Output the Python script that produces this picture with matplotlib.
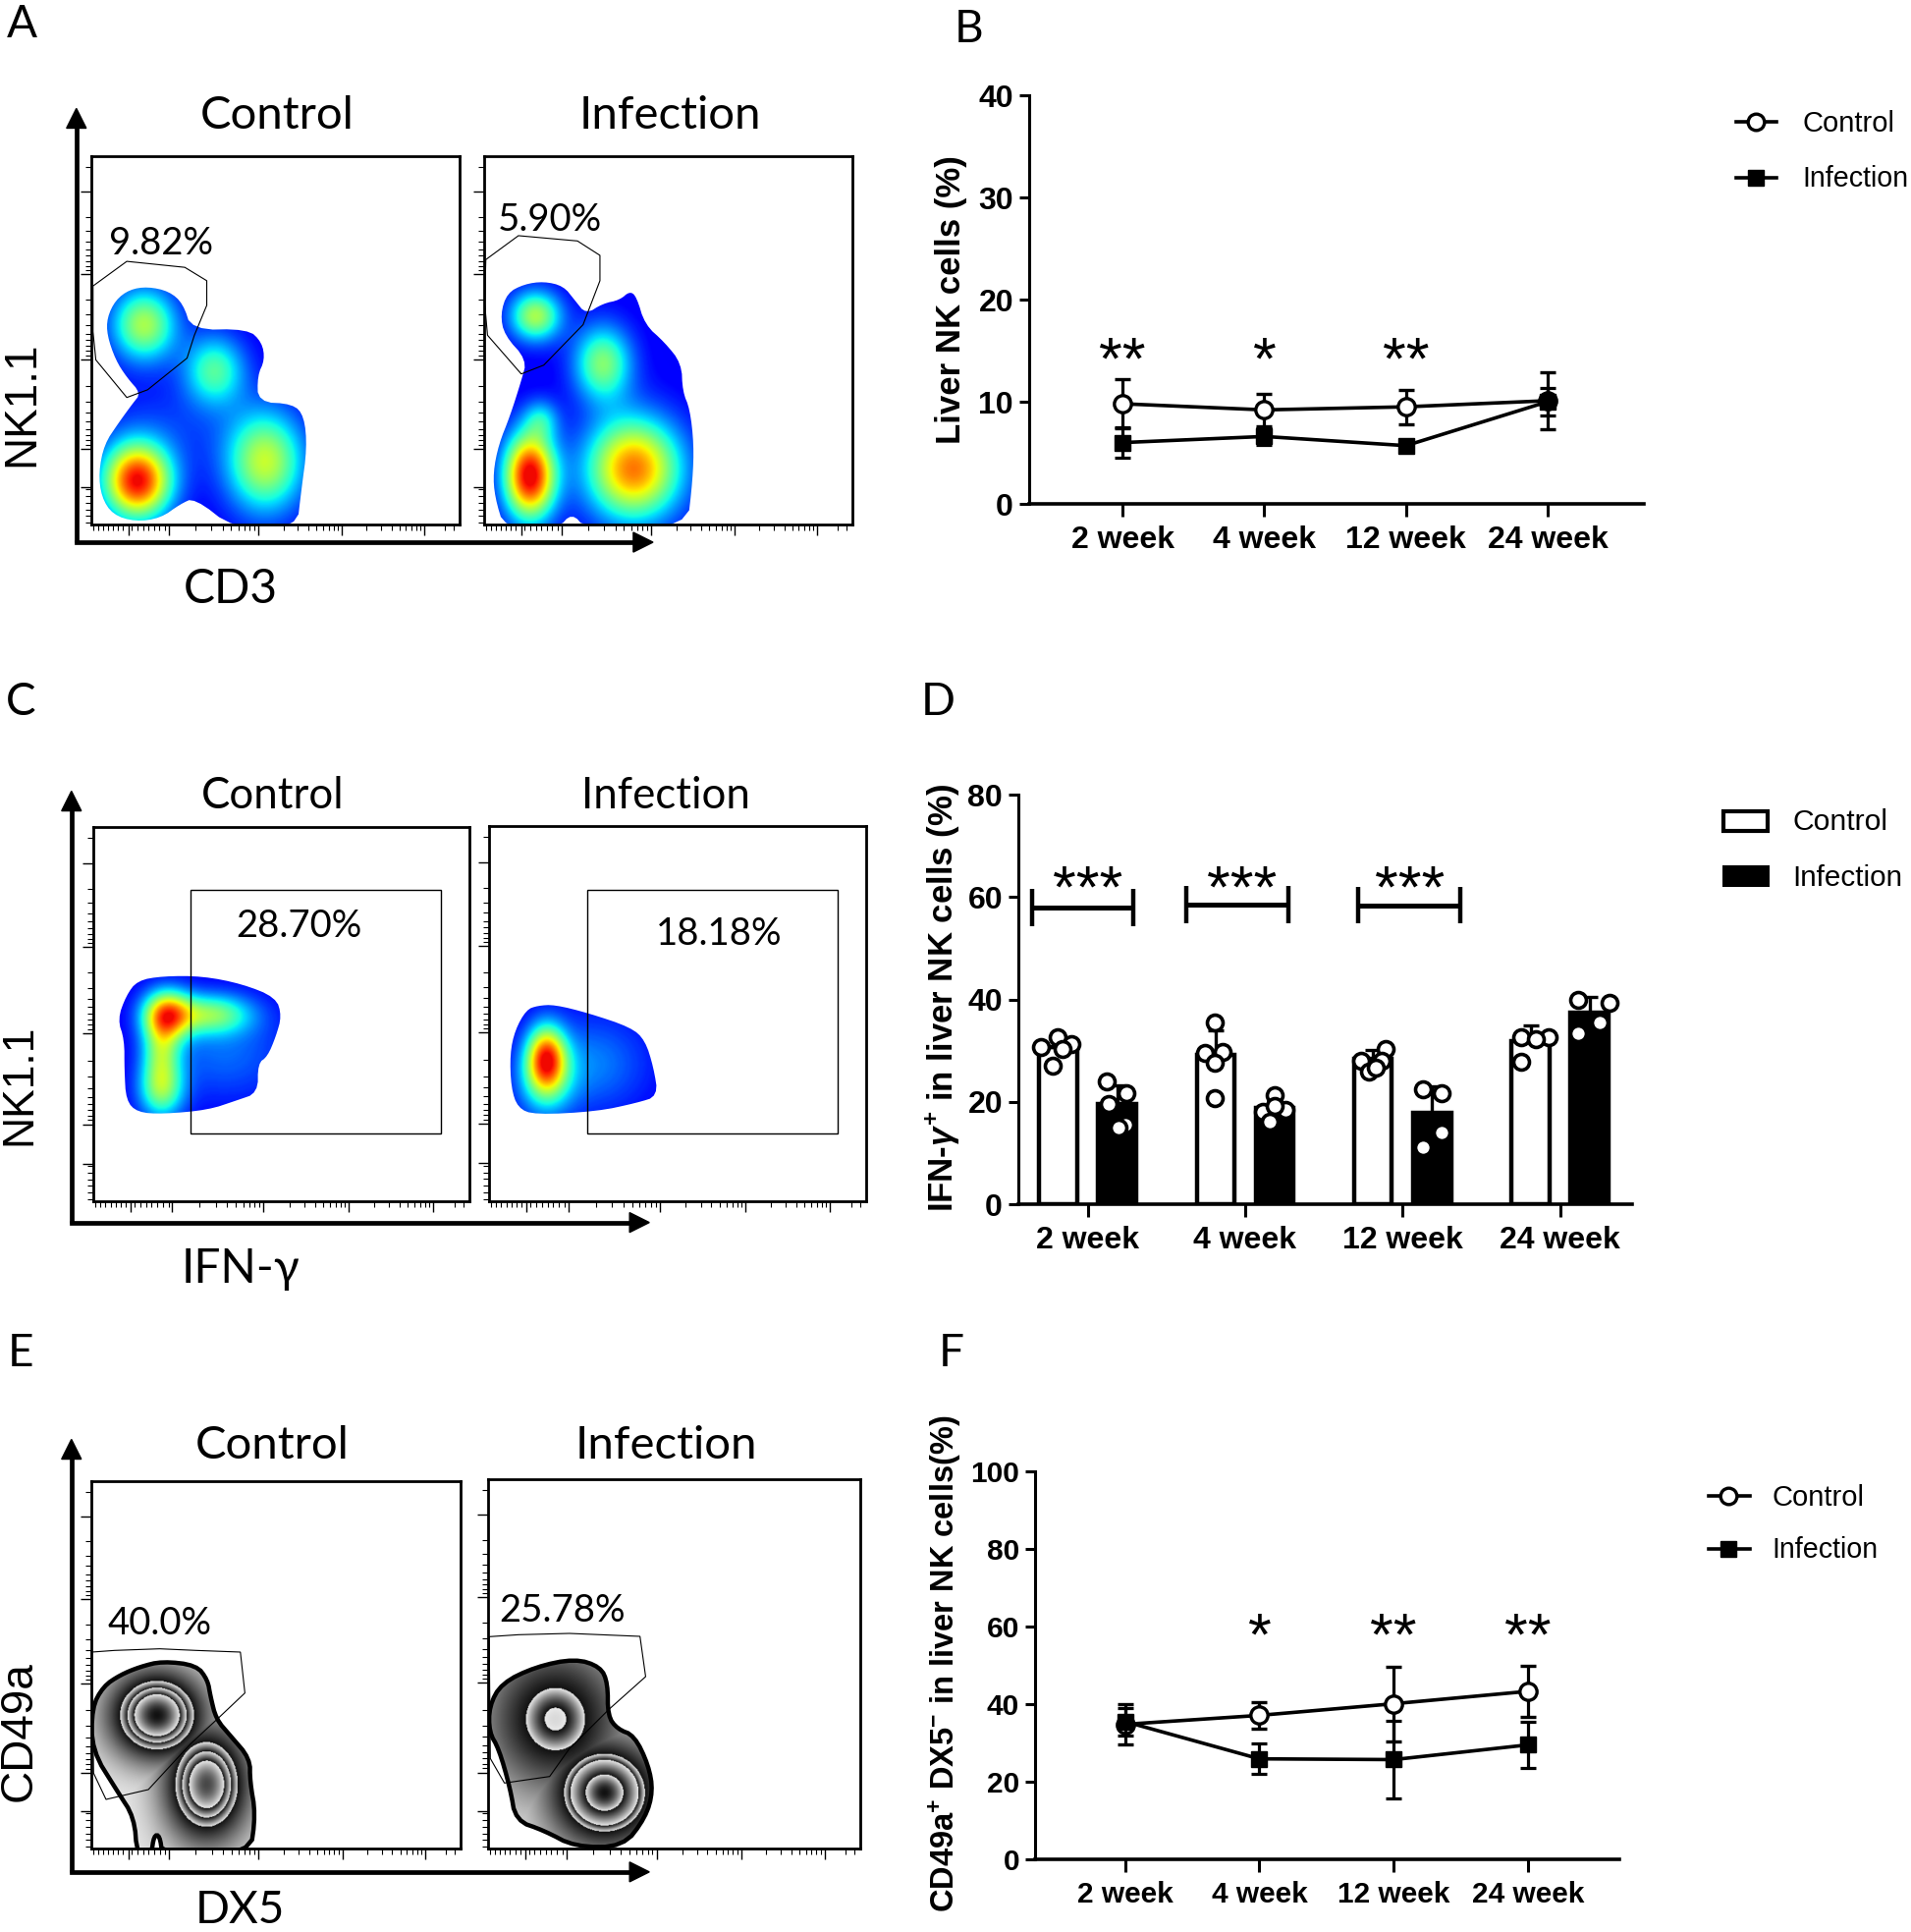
import matplotlib
matplotlib.use('Agg')
import matplotlib.pyplot as plt
from matplotlib.colors import LinearSegmentedColormap
from matplotlib.patches import Polygon, Rectangle
import numpy as np

W, H = 1946, 1967
S = W / 1551  # el ojo mide en la imagen reducida

plt.rcParams['font.family'] = 'Liberation Sans'
plt.rcParams['mathtext.fontset'] = 'custom'
plt.rcParams['mathtext.rm'] = 'Liberation Sans:bold'
plt.rcParams['mathtext.bf'] = 'Liberation Sans:bold'
plt.rcParams['mathtext.it'] = 'Liberation Sans:italic:bold'

weeks = ['2 week', '4 week', '12 week', '24 week']

# panel B
b_control = [9.8, 9.2, 9.5, 10.1]
b_control_err = [2.4, 1.6, 1.7, 2.8]
b_infection = [6.0, 6.6, 5.7, 10.0]
b_infection_err = [1.5, 0.8, 0.4, 1.3]
b_stars = ['**', '*', '**', '']

# panel D
d_control = [30.7, 29.2, 28.3, 31.9]
d_control_err = [2.0, 4.7, 1.8, 3.0]
d_infection = [19.5, 18.8, 17.8, 37.5]
d_infection_err = [3.7, 1.7, 5.2, 3.0]
d_control_pts = [[30.7, 32.6, 31.3, 27.0, 30.3], [35.5, 29.6, 29.8, 27.6, 20.7],
                 [30.3, 28.0, 28.0, 25.9, 26.7], [32.7, 32.6, 32.3, 27.8]]
d_control_jit = [[-.294, -.192, -.102, -.224, -.16], [-.192, -.253, -.143, -.192, -.192],
                 [-.11, -.265, -.131, -.212, -.171], [-.249, -.073, -.155, -.249]]
d_infection_pts = [[24.0, 21.7, 19.5, 15.5, 15.0], [21.2, 18.1, 18.4, 16.1, 19.1],
                   [22.4, 21.7, 14.0, 11.2], [40.0, 39.3, 35.5, 33.4]]
d_infection_jit = [[.122, .245, .131, .237, .196], [.188, .114, .257, .155, .188],
                   [.127, .249, .249, .127], [.118, .314, .253, .118]]
d_brackets_x = [(-.355, .29), (.624, 1.278), (1.718, 2.367)]
d_brackets_y = [57.9, 58.5, 58.4]
d_stars_x = [0.0, .98, 2.045]

# panel F
f_control = [34.8, 37.1, 40.1, 43.3]
f_control_err = [5.2, 3.4, 9.6, 6.6]
f_infection = [35.5, 25.9, 25.7, 29.5]
f_infection_err = [3.5, 4.0, 10.0, 6.0]
f_stars = ['', '*', '**', '**']

# citometria: contornos, puertas y picos de densidad, en pixeles del recorte
a1_shape = [(262,652),(300,665),(325,700),(340,775),(440,772),(465,810),(470,860),(457,905),(458,980),(520,985),
            (540,1020),(545,1110),(535,1230),(527,1340),(415,1340),(345,1252),(320,1270),(285,1310),(240,1320),
            (200,1300),(180,1250),(175,1180),(185,1100),(210,1040),(235,985),(250,955),(225,910),(205,860),
            (190,790),(190,740),(205,690),(230,660)]
a1_peaks = [(255,760,40,72,.56),(243,1205,42,75,1.0),(470,1150,48,100,.6),(380,890,38,70,.42),(300,1050,90,90,.08)]
a1_gate = [(165,650),(225,580),(328,597),(367,635),(367,705),(345,790),(332,855),(262,945),(225,967),(170,860),(165,780)]
a2_shape = [(965,637),(1000,650),(1020,690),(1040,730),(1070,700),(1100,690),(1118,665),(1130,680),(1145,760),
            (1180,810),(1210,870),(1212,950),(1225,1000),(1232,1100),(1230,1200),(1220,1340),(1040,1340),(1015,1295),
            (990,1340),(895,1340),(878,1250),(875,1180),(885,1100),(905,1020),(925,920),(935,860),(895,790),
            (888,730),(900,670),(930,645)]
a2_peaks = [(950,735,32,50,.56),(940,1190,32,85,1.05),(1125,1170,58,100,.85),(1070,870,36,75,.5),(960,1030,22,40,.24)]
a2_gate = [(862,575),(920,507),(1025,522),(1065,563),(1065,635),(1035,760),(965,875),(925,900),(865,790),(860,700)]
c1_shape = [(290,622),(360,622),(430,645),(490,685),(500,740),(490,800),(475,860),(458,880),(458,968),(420,990),
            (370,1018),(290,1030),(245,1025),(225,990),(222,900),(222,810),(210,750),(225,680),(245,635)]
c1_peaks = [(297,735,30,50,.72),(375,735,50,42,.45),(287,960,28,60,.45),(287,840,24,70,.42),(400,850,80,100,.15)]
c2_shape = [(985,705),(1045,730),(1120,772),(1145,810),(1160,890),(1168,975),(1130,995),(1060,1020),(950,1030),
            (920,1010),(908,950),(906,850),(915,780),(935,720),(955,708)]
c2_peaks = [(970,860,24,65,.75),(968,930,34,75,.32),(1050,880,70,100,.18)]
e1_shape = [(290,633),(350,645),(370,690),(375,740),(385,810),(410,860),(445,930),(445,1000),(455,1100),(445,1225),
            (290,1225),(285,1165),(275,1165),(270,1225),(245,1225),(240,1110),(210,1030),(165,905),(165,775),(185,710),(215,675),(250,650)]
e1_peaks = [(280,798,60,96,1.0),(368,1010,53,124,.95)]
e1_levels = [0, .55, .68, .8, 2]
e1_gate = [(165,605),(205,600),(285,595),(350,600),(428,605),(436,730),(390,805),(340,885),(265,1025),(190,1055),(168,975)]
e2_shape = [(1020,625),(1065,650),(1078,700),(1078,800),(1095,840),(1125,860),(1150,950),(1158,1030),(1145,1110),
            (1105,1200),(1020,1200),(965,1150),(915,1120),(905,1020),(885,900),(868,850),(868,770),(890,700),(950,650)]
e2_peaks = [(985,810,90,164,.675),(1072,1035,71,118,.95)]
e2_levels = [0, .57, .66, .85, 2]
e2_gate = [(868,558),(920,552),(1010,548),(1135,557),(1145,680),(1080,780),(1010,900),(975,985),(895,1005),(870,930)]

jet_cut = LinearSegmentedColormap.from_list('jet_cut', plt.cm.jet(np.linspace(.11, .9, 256)))


def box(x0, x1, y0, y1):
    return [x0 / W, 1 - y1 / H, (x1 - x0) / W, (y1 - y0) / H]


def suavizar(shape, n=2):
    # corta las esquinas del contorno
    p = np.array(shape, dtype=float)
    for _ in range(n):
        q = np.roll(p, -1, axis=0)
        p = np.column_stack([.75 * p + .25 * q, .25 * p + .75 * q]).reshape(-1, 2)
    return p


def campos(peaks, lims):
    xx, yy = np.meshgrid(np.linspace(lims[0], lims[1], 500), np.linspace(lims[2], lims[3], 500))
    return [amp * np.exp(-((xx - cx) / sx) ** 2 / 2 - ((yy - cy) / sy) ** 2 / 2) for cx, cy, sx, sy, amp in peaks]


def flow_axes(fig, pos, lims, lw=2.0):
    ax = fig.add_axes(box(*pos))
    ax.set_xlim(lims[0], lims[1])
    ax.set_ylim(lims[3], lims[2])
    for s in ax.spines.values():
        s.set_linewidth(lw)
    # ticks tipo log de FlowJo
    xmaj = np.array([.1, .21, .453, .68, .904])
    ymaj = np.array([.097, .32, .551, .794, .899])
    dec = np.log10(np.arange(2, 10))
    xmin = np.concatenate([xmaj[i] + (xmaj[i + 1] - xmaj[i]) * dec for i in range(1, 4)] +
                          [np.linspace(.005, .1, 8), np.linspace(.11, .2, 7), [.96, .985]])
    ymin = np.concatenate([ymaj[i] + (ymaj[i + 1] - ymaj[i]) * dec for i in range(0, 3)] +
                          [np.linspace(.905, .995, 6), [.03]])
    ax.set_xticks(lims[0] + xmaj * (lims[1] - lims[0]))
    ax.set_xticks(lims[0] + xmin * (lims[1] - lims[0]), minor=True)
    ax.set_yticks(lims[2] + ymaj * (lims[3] - lims[2]))
    ax.set_yticks(lims[2] + ymin * (lims[3] - lims[2]), minor=True)
    ax.tick_params(which='major', length=8, width=1.0, labelbottom=False, labelleft=False)
    ax.tick_params(which='minor', length=4, width=.8)
    return ax


def flow_jet(fig, pos, lims, shape, peaks, gate, label, label_xy, rect=False):
    ax = flow_axes(fig, pos, lims)
    im = ax.imshow(np.sum(campos(peaks, lims), axis=0), extent=[lims[0], lims[1], lims[3], lims[2]],
                   cmap=jet_cut, vmin=0, vmax=1, aspect='auto', interpolation='bilinear')
    im.set_clip_path(Polygon(suavizar(shape), closed=True, transform=ax.transData))
    ax.set_xlim(lims[0], lims[1])
    ax.set_ylim(lims[3], lims[2])
    if rect:
        ax.add_patch(Rectangle((gate[0], gate[2]), gate[1] - gate[0], gate[3] - gate[2], fill=False, ec='k', lw=1.0))
    else:
        ax.add_patch(Polygon(gate, closed=True, fill=False, ec='k', lw=.8))
    ax.text(label_xy[0], label_xy[1], label, family='Lato', fontsize=27.5, ha='center', va='center', color='k')
    return ax


def flow_zebra(fig, pos, lims, shape, peaks, levels, gate, label, label_xy):
    ax = flow_axes(fig, pos, lims)
    d = np.max(campos(peaks, lims), axis=0)
    lev = np.array(levels)
    i = np.clip(np.searchsorted(lev, d, side='right') - 1, 0, len(lev) - 2)
    top = np.where(i == len(lev) - 2, np.maximum(d.max(), lev[-2] + .01), lev[i + 1])
    frac = np.clip((d - lev[i]) / (top - lev[i]), 0, 1)
    gray = .92 - .85 * frac
    im = ax.imshow(gray, extent=[lims[0], lims[1], lims[3], lims[2]], cmap='gray', vmin=0, vmax=1,
                   aspect='auto', interpolation='bilinear')
    smooth = suavizar(shape)
    im.set_clip_path(Polygon(smooth, closed=True, transform=ax.transData))
    ax.add_patch(Polygon(smooth, closed=True, fill=False, ec='k', lw=3.2))
    ax.set_xlim(lims[0], lims[1])
    ax.set_ylim(lims[3], lims[2])
    ax.add_patch(Polygon(gate, closed=True, fill=False, ec='k', lw=.8))
    ax.text(label_xy[0], label_xy[1], label, family='Lato', fontsize=27.5, ha='center', va='center', color='k')
    return ax


def estilo(ax, ymax, yticks, size=23):
    ax.spines['top'].set_visible(False)
    ax.spines['right'].set_visible(False)
    ax.spines['left'].set_linewidth(2.2)
    ax.spines['bottom'].set_linewidth(2.6)
    ax.set_ylim(0, ymax)
    ax.set_yticks(yticks)
    ax.set_xticks(range(4))
    ax.set_xticklabels(weeks, fontsize=size, fontweight='bold')
    ax.tick_params(axis='y', length=7, width=2.2, labelsize=size, pad=4.5)
    ax.tick_params(axis='x', length=9.5, width=2.2, pad=6)
    for t in ax.get_yticklabels():
        t.set_fontweight('bold')
    ax.patch.set_alpha(0)


def lineas(ax, control, control_err, infection, infection_err):
    x = np.arange(4)
    ax.errorbar(x, control, yerr=control_err, color='k', lw=2.6, elinewidth=2.3, capsize=6, capthick=2.3,
                marker='o', ms=12.5, mfc='w', mec='k', mew=2.4, zorder=3, clip_on=False)
    ax.errorbar(x, infection, yerr=infection_err, color='k', lw=2.6, elinewidth=2.3, capsize=6, capthick=2.3,
                marker='s', ms=11, mfc='k', mec='k', zorder=4, clip_on=False)


fig = plt.figure(figsize=(W / 100, H / 100), dpi=100, facecolor='w')

# paneles de citometria
flow_jet(fig, (93, 468, 159, 534), (162, 816, 281, 1328), a1_shape, a1_peaks, a1_gate, '9.82%', (285, 530))
flow_jet(fig, (493, 868, 159, 534), (859, 1514, 281, 1328), a2_shape, a2_peaks, a2_gate, '5.90%', (975, 463))
flow_jet(fig, (95, 478, 842, 1223), (167, 832, 181, 1288), c1_shape, c1_peaks, (339, 781, 367, 1087), '28.70%', (530, 474), rect=True)
flow_jet(fig, (498, 882, 841, 1223), (869, 1536, 178, 1285), c2_shape, c2_peaks, (1043, 1485, 365, 1085), '18.18%', (1275, 496), rect=True)
flow_zebra(fig, (93, 469, 1508, 1882), (164, 818, 83, 1205), e1_shape, e1_peaks, e1_levels, e1_gate, '40.0%', (285, 518))
flow_zebra(fig, (497, 876, 1506, 1882), (866, 1525, 77, 1205), e2_shape, e2_peaks, e2_levels, e2_gate, '25.78%', (998, 479))

# panel B
ax = fig.add_axes(box(1048, 1674, 97, 513))
ax.set_xlim(-.66, 3.68)
estilo(ax, 40, [0, 10, 20, 30, 40])
lineas(ax, b_control, b_control_err, b_infection, b_infection_err)
for i, s in enumerate(b_stars):
    ax.text(i, 13.8, s, fontsize=44, ha='center', va='center')

# panel D
ax = fig.add_axes(box(1037, 1662, 809, 1226))
ax.set_xlim(-.44, 3.458)
estilo(ax, 80, [0, 20, 40, 60, 80])
x = np.arange(4)
ax.bar(x - .1875, d_control, width=.24, color='w', edgecolor='k', linewidth=3.2, zorder=2,
       yerr=[[0] * 4, d_control_err], error_kw=dict(ecolor='k', elinewidth=2.4, capsize=6, capthick=2.4, zorder=2))
ax.bar(x + .1875, d_infection, width=.24, color='k', edgecolor='k', linewidth=3.2, zorder=2,
       yerr=[[0] * 4, d_infection_err], error_kw=dict(ecolor='k', elinewidth=2.4, capsize=6, capthick=2.4, zorder=2))
for i in range(4):
    ax.plot(i + np.array(d_control_jit[i]), d_control_pts[i], ls='', marker='o', ms=11.5, mfc='w', mec='k', mew=2.6, zorder=4)
    ax.plot(i + np.array(d_infection_jit[i]), d_infection_pts[i], ls='', marker='o', ms=11.5, mfc='w', mec='k', mew=2.6, zorder=4)
for (x0, x1), y, xs in zip(d_brackets_x, d_brackets_y, d_stars_x):
    ax.plot([x0, x1], [y, y], color='k', lw=3.6, solid_capstyle='butt')
    ax.plot([x0, x0], [y - 3.6, y + 3.6], color='k', lw=3.2, solid_capstyle='butt')
    ax.plot([x1, x1], [y - 3.6, y + 3.6], color='k', lw=3.2, solid_capstyle='butt')
    ax.text(xs, 61.1, '***', fontsize=44, ha='center', va='center')

# panel F
ax = fig.add_axes(box(1054, 1649, 1498, 1893))
ax.set_xlim(-.67, 3.68)
estilo(ax, 100, [0, 20, 40, 60, 80, 100], size=21.5)
lineas(ax, f_control, f_control_err, f_infection, f_infection_err)
for i, s in enumerate(f_stars):
    ax.text(i, 56.8, s, fontsize=44, ha='center', va='center')

# capa de textos, flechas y leyendas, en pixeles
ov = fig.add_axes([0, 0, 1, 1], zorder=10)
ov.set_xlim(0, W)
ov.set_ylim(H, 0)
ov.axis('off')


def letra(s, x, y, size=35, fam='Lato', **kw):
    ov.text(x * S, y * S, s, family=fam, fontsize=size, ha='center', va='center', **kw)


for s, x, y in [('A', 18, 20), ('B', 786, 24), ('C', 17, 570), ('D', 761, 570), ('E', 17, 1098), ('F', 772, 1098)]:
    letra(s, x, y, 33)
for s, x, y, sz in [('Control', 225, 94, 34), ('Infection', 544, 94, 34), ('Control', 221, 646, 31.5), ('Infection', 540, 646, 31.5),
                    ('Control', 221, 1173, 34), ('Infection', 541, 1173, 34)]:
    letra(s, x, y, sz)
for s, x, y, sz in [('CD3', 187, 478, 34.5), ('IFN-γ', 195, 1030, 34.5), ('DX5', 195, 1550, 33)]:
    letra(s, x, y, sz, fam=['Lato', 'DejaVu Sans'])
letra('NK1.1', 18, 328, 33, fam='Liberation Sans', rotation=90)
letra('NK1.1', 16, 880, 32, fam='Liberation Sans', rotation=90)
letra('CD49a', 16, 1405, 33, fam='Liberation Sans', rotation=90)

ov.text(772 * S, 243 * S, 'Liver NK cells (%)', fontsize=25, fontweight='bold', rotation=90, ha='center', va='center')
ov.text(765 * S, 810 * S, r'IFN-$\gamma^{+}$ in liver NK cells (%)', fontsize=25, fontweight='bold', rotation=90, ha='center', va='center')
ov.text(767 * S, 1350 * S, r'CD49a$^{+}$ DX5$^{-}$ in liver NK cells(%)', fontsize=23.5, fontweight='bold', rotation=90, ha='center', va='center')

for xa, ya0, ya1, xb in [(62, 440, 88, 530), (58, 992, 642, 527), (58, 1519, 1168, 527)]:
    ov.plot([xa * S, xa * S], [ya0 * S, (ya1 + 12) * S], color='k', lw=3.4, solid_capstyle='butt')
    ov.plot([xa * S, (xb - 12) * S], [ya0 * S, ya0 * S], color='k', lw=3.4, solid_capstyle='projecting')
    ov.add_patch(Polygon([(xa * S, ya1 * S), ((xa - 8) * S, (ya1 + 16) * S), ((xa + 8) * S, (ya1 + 16) * S)], color='k'))
    ov.add_patch(Polygon([(xb * S, ya0 * S), ((xb - 16) * S, (ya0 - 8) * S), ((xb - 16) * S, (ya0 + 8) * S)], color='k'))

for x_mark, x_text, y_c, y_i in [(1425, 1463, 99, 144), (1403, 1438, 1214, 1257)]:
    ov.plot([(x_mark - 16) * S, (x_mark + 17) * S], [y_c * S] * 2, color='k', lw=2.6, zorder=5)
    ov.plot([x_mark * S], [y_c * S], marker='o', ms=12, mfc='w', mec='k', mew=2.4, zorder=6)
    ov.plot([(x_mark - 16) * S, (x_mark + 17) * S], [y_i * S] * 2, color='k', lw=2.6, zorder=5)
    ov.plot([x_mark * S], [y_i * S], marker='s', ms=11, mfc='k', mec='k', zorder=6)
    ov.text(x_text * S, (y_c + 1.5) * S, 'Control', fontsize=21, ha='left', va='center')
    ov.text(x_text * S, (y_i + 1) * S, 'Infection', fontsize=20.6, ha='left', va='center')

ov.add_patch(Rectangle((1399 * S, 658 * S), 36 * S, 16 * S, fc='w', ec='k', lw=3.0))
ov.add_patch(Rectangle((1398 * S, 702 * S), 38 * S, 18 * S, fc='k', ec='k', lw=0))
ov.text(1455 * S, 667 * S, 'Control', fontsize=21.7, ha='left', va='center')
ov.text(1455 * S, 712.5 * S, 'Infection', fontsize=21.3, ha='left', va='center')

fig.savefig('out.png', dpi=100)
